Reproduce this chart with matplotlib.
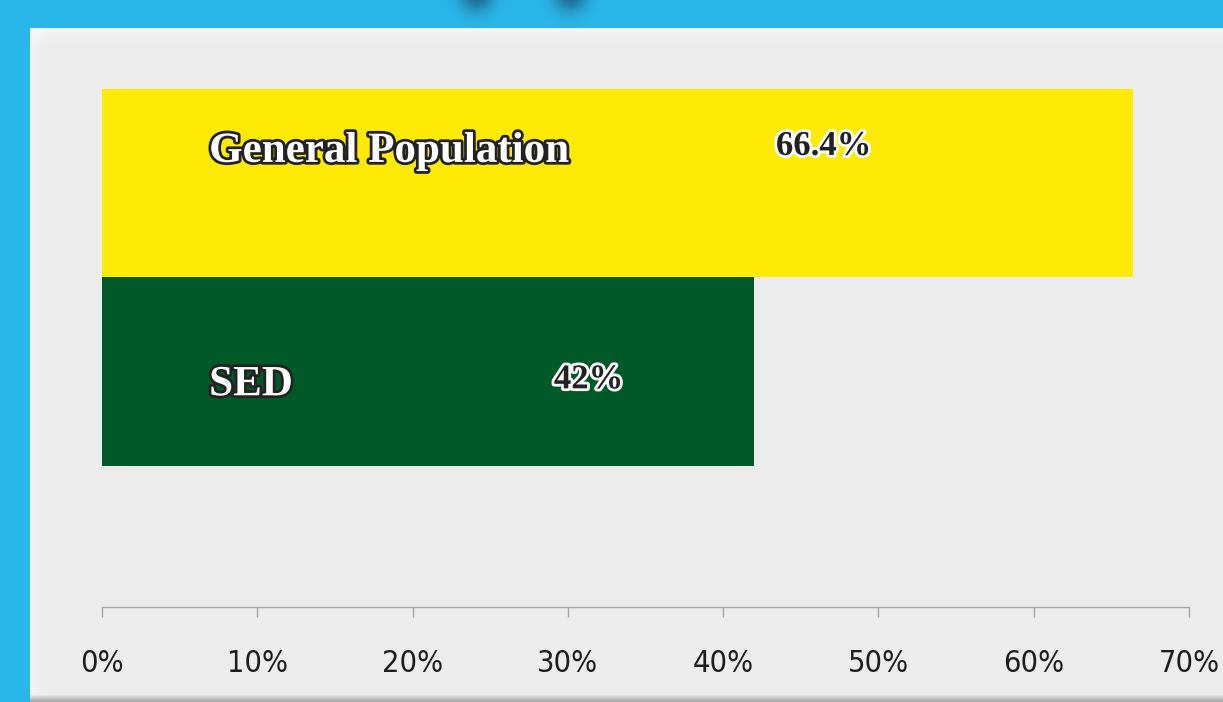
import numpy as np
import matplotlib
matplotlib.use('Agg')
import matplotlib.pyplot as plt
import matplotlib.patheffects as pe

# data
categories = ['General Population', 'SED']
values = [66.4, 42]
value_labels = ['66.4%', '42%']
bar_colors = ['#ffea05', '#005a27']
xticks = [0, 10, 20, 30, 40, 50, 60, 70]
xtick_labels = ['0%', '10%', '20%', '30%', '40%', '50%', '60%', '70%']

W, H = 1223, 702
fig = plt.figure(figsize=(W / 100, H / 100), dpi=100)

# background: blue frame, grey panel with soft edges
yy, xx = np.mgrid[0:H, 0:W].astype(float)
bg = np.zeros((H, W, 3))
bg[:] = np.array([41, 183, 234]) / 255
panel = (xx >= 30) & (yy >= 28)
g = np.full((H, W), 236.0)
g += np.clip(1 - (yy - 28) / 16, 0, 1) * 9
g += np.clip(1 - (xx - 30) / 16, 0, 1) * 7
g = np.minimum(g, 246)
shadow = np.clip((yy - 694) / 6, 0, 1)
g = g * (1 - shadow) + 175 * shadow
for c in range(3):
    bg[..., c] = np.where(panel, g / 255, bg[..., c])
# dark blurred blobs at the very top
for cx in [476, 570]:
    blob = np.exp(-((xx - cx) ** 2 + (yy + 6) ** 2) / (2 * 12.0 ** 2)) * 0.6
    blob[panel] = 0
    for c, v in enumerate([25, 50, 75]):
        bg[..., c] = bg[..., c] * (1 - blob) + v / 255 * blob
bax = fig.add_axes([0, 0, 1, 1])
bax.imshow(bg, aspect='auto', interpolation='bilinear')
bax.axis('off')

# chart area: x from 102 to 1189 px, y from 89 to 607 px
ax = fig.add_axes([102 / W, (H - 607) / H, 1087 / W, 518 / H])
ax.set_facecolor('none')
ypos = [1, 0]
ax.barh(ypos, values, height=1.0, color=bar_colors)
ax.set_xlim(0, 70)
ax.set_ylim(-1.25, 1.5)
ax.set_yticks([])
ax.set_xticks(xticks)
ax.set_xticklabels(xtick_labels, family='DejaVu Sans', fontstretch='condensed',
                   fontsize=22, color='#1e1e1e')
ax.tick_params(axis='x', direction='out', length=7.5, width=1, color='#a6a6a6', pad=23)
for s in ['top', 'left', 'right']:
    ax.spines[s].set_visible(False)
ax.spines['bottom'].set_color('#a6a6a6')
ax.spines['bottom'].set_linewidth(1)

serif = ['Liberation Serif', 'DejaVu Serif']
cat_fx = [pe.withStroke(linewidth=4, foreground='#222222')]
val_fx = [pe.withStroke(linewidth=4, foreground='white')]
cat_off = [0.387, 0.626]
val_off = [0.35, 0.589]
val_x = [43.4, 29.1]
for i in range(len(categories)):
    top = ypos[i] + 0.5
    ax.text(6.9, top - cat_off[i], categories[i], family=serif, fontweight='bold',
            fontsize=31, color='white', va='baseline', ha='left', path_effects=cat_fx)
    ax.text(val_x[i], top - val_off[i], value_labels[i], family=serif, fontweight='bold',
            fontsize=25, color='#222222', va='baseline', ha='left', path_effects=val_fx)

fig.savefig('out.png', dpi=100)
